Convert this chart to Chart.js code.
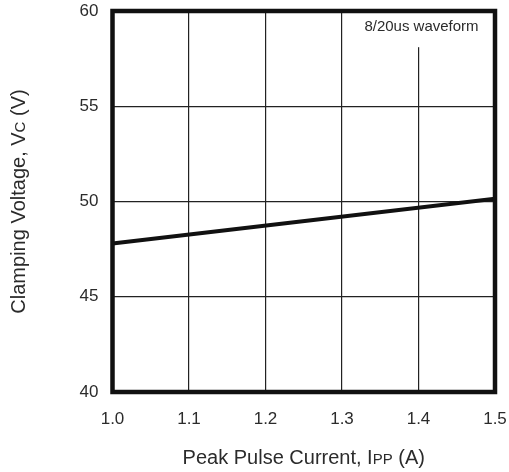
<!DOCTYPE html>
<html>
<head>
<meta charset="utf-8">
<script src="https://cdn.jsdelivr.net/npm/chart.js@4"></script>
<style>
  html, body { margin: 0; padding: 0; background: #fff; }
  #wrap { width: 509px; height: 472px; }
</style>
</head>
<body>
<div id="wrap"><canvas id="chart" width="509" height="472"></canvas></div>
<script>
// values
const currentA = [1.0, 1.5];
const clampV = [47.8, 50.15];
const xTicks = [1.0, 1.1, 1.2, 1.3, 1.4, 1.5];
const yTicks = [40, 45, 50, 55, 60];
const noteText = "8/20us waveform";
// axis titles, split so the subscript part can be drawn smaller
const xTitle = [["Peak Pulse Current, I", false], ["PP", true], [" (A)", false]];
const yTitle = [["Clamping Voltage, V", false], ["C", true], [" (V)", false]];

const textColor = "#2b2b2b";
const font = "'Liberation Sans', Arial, sans-serif";

// draws a title made of big and small runs, centred on 0,0
function drawRuns(ctx, runs, big, small) {
    let total = 0;
    runs.forEach(r => {
        ctx.font = (r[1] ? small : big) + "px " + font;
        total += ctx.measureText(r[0]).width;
    });
    let x = -total / 2;
    ctx.textAlign = "left";
    ctx.textBaseline = "alphabetic";
    runs.forEach(r => {
        ctx.font = (r[1] ? small : big) + "px " + font;
        ctx.fillText(r[0], x, 0);
        x += ctx.measureText(r[0]).width;
    });
}

// thick frame, the waveform note and the axis titles
const framePlugin = {
    id: "frame",
    afterDatasetsDraw(chart) {
        const ctx = chart.ctx;
        const a = chart.chartArea;
        const x = chart.scales.x;
        const y = chart.scales.y;
        ctx.save();
        // note box hides the top of the 1.4 grid line
        const cx = x.getPixelForValue(1.4) + 3;
        ctx.font = "15px " + font;
        const w = ctx.measureText(noteText).width;
        ctx.fillStyle = "#fff";
        ctx.fillRect(cx - w / 2 - 4, a.top + 2, w + 8, y.getPixelForValue(58.1) - a.top - 2);
        ctx.fillStyle = textColor;
        ctx.textAlign = "center";
        ctx.textBaseline = "middle";
        ctx.fillText(noteText, cx, y.getPixelForValue(59.15));

        ctx.strokeStyle = "#111";
        ctx.lineWidth = 4.5;
        ctx.strokeRect(a.left, a.top, a.right - a.left, a.bottom - a.top);

        // axis titles
        ctx.fillStyle = textColor;
        ctx.save();
        ctx.translate((a.left + a.right) / 2, a.bottom + 72);
        drawRuns(ctx, xTitle, 20, 15);
        ctx.restore();
        ctx.save();
        ctx.translate(25, (a.top + a.bottom) / 2);
        ctx.rotate(-Math.PI / 2);
        drawRuns(ctx, yTitle, 20, 15);
        ctx.restore();
        ctx.restore();
    }
};

const ctx = document.getElementById("chart").getContext("2d");
new Chart(ctx, {
    type: "scatter",
    data: {
        datasets: [{
            data: currentA.map((c, i) => ({ x: c, y: clampV[i] })),
            showLine: true,
            borderColor: "#111",
            borderWidth: 4,
            pointRadius: 0,
            tension: 0
        }]
    },
    options: {
        responsive: false,
        animation: false,
        layout: { autoPadding: false, padding: { left: 0, right: 14, top: 11, bottom: 0 } },
        plugins: {
            legend: { display: false },
            tooltip: { enabled: false }
        },
        scales: {
            x: {
                type: "linear",
                min: 1.0,
                max: 1.5,
                afterBuildTicks: s => { s.ticks = xTicks.map(v => ({ value: v })); },
                afterFit: s => {
                    s.height = 80;
                    s.paddingLeft = 0;
                    s.paddingRight = 0;
                },
                grid: { color: "#222", lineWidth: 1.2, drawTicks: false },
                border: { display: false },
                ticks: {
                    color: textColor,
                    padding: 17,
                    maxRotation: 0,
                    font: { family: font, size: 17 },
                    callback: v => v.toFixed(1)
                }
            },
            y: {
                min: 40,
                max: 60,
                afterBuildTicks: s => { s.ticks = yTicks.map(v => ({ value: v })); },
                afterFit: s => {
                    s.width = 112.5;
                    s.paddingTop = 0;
                    s.paddingBottom = 0;
                },
                grid: { color: "#222", lineWidth: 1.2, drawTicks: false },
                border: { display: false },
                ticks: {
                    color: textColor,
                    padding: 14,
                    font: { family: font, size: 17 }
                }
            }
        }
    },
    plugins: [framePlugin]
});
</script>
</body>
</html>
